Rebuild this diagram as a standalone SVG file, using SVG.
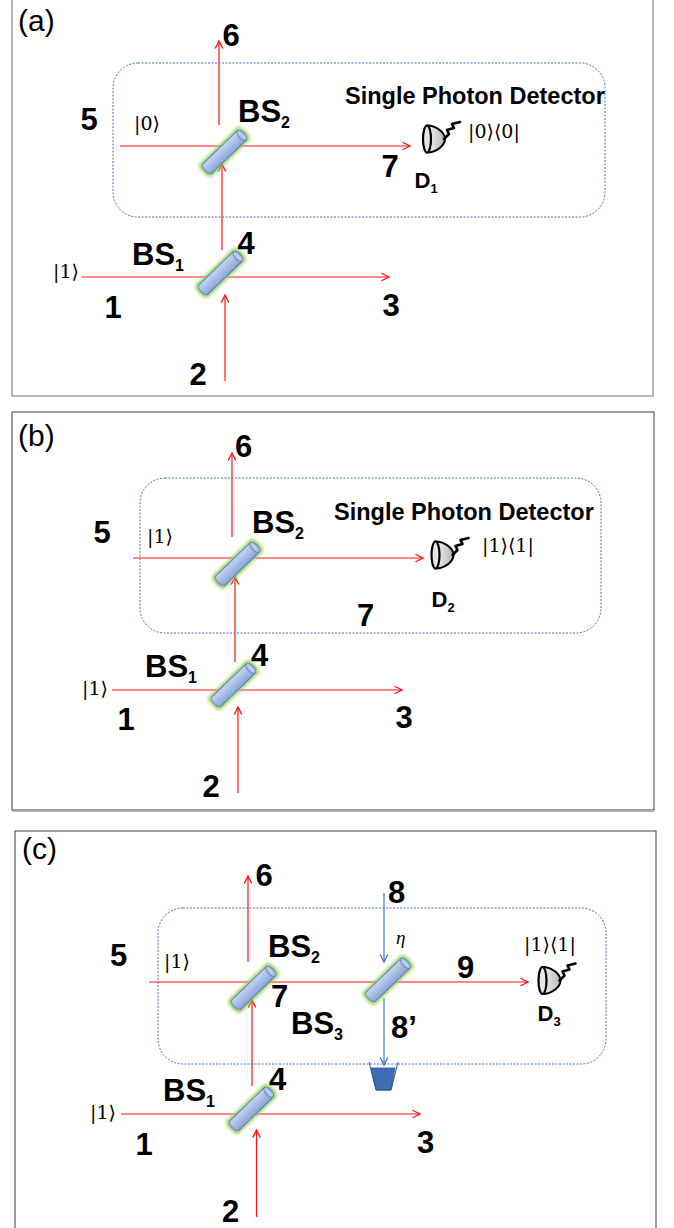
<svg xmlns="http://www.w3.org/2000/svg" xmlns:xlink="http://www.w3.org/1999/xlink" width="674" height="1228" viewBox="0 0 674 1228">
<style>
.num{font-family:"Liberation Sans",Arial,sans-serif;font-weight:bold;font-size:31px;text-anchor:middle;fill:#000}
.bs{font-family:"Liberation Sans",Arial,sans-serif;font-weight:bold;font-size:31px;fill:#000}
.sub{font-size:16px}
.dl{font-family:"Liberation Sans",Arial,sans-serif;font-weight:bold;font-size:22px;fill:#000}
.dsub{font-size:13px}
.spd{font-family:"Liberation Sans",Arial,sans-serif;font-weight:bold;font-size:23.5px;fill:#000}
.ket{font-family:"DejaVu Serif","DejaVu Sans",serif;font-size:19px;fill:#000}
.eta{font-family:"Liberation Serif","DejaVu Serif",serif;font-style:italic;font-size:19px;fill:#000}
.plab{font-family:"Liberation Sans",Arial,sans-serif;font-size:30px;fill:#000}
.frameA{fill:none;stroke:#a0a0a0;stroke-width:1.5}
.frame{fill:none;stroke:#404040;stroke-width:1}
.dash{fill:none;stroke:#4a6fb5;stroke-width:1;stroke-dasharray:2 1.5}
.ray{fill:none;stroke:#ff1414;stroke-width:1.2;marker-end:url(#ar)}
.blue{fill:none;stroke:#4a76c8;stroke-width:1.2;marker-end:url(#ab)}
</style>
<defs>
<marker id="ar" markerUnits="userSpaceOnUse" markerWidth="10" markerHeight="10" refX="0" refY="0" viewBox="-7 -4 8 8" orient="auto" overflow="visible">
<path d="M-6,-3 L0,0 L-6,3" fill="none" stroke="#ff1414" stroke-width="1.1"/>
</marker>
<marker id="ab" markerUnits="userSpaceOnUse" markerWidth="10" markerHeight="10" refX="0" refY="0" viewBox="-7 -4 8 8" orient="auto" overflow="visible">
<path d="M-6,-3 L0,0 L-6,3" fill="none" stroke="#4a76c8" stroke-width="1.1"/>
</marker>
<linearGradient id="bsg" x1="0" y1="0" x2="0" y2="1">
<stop offset="0" stop-color="#c6d4ef"/>
<stop offset="1" stop-color="#8aa5da"/>
</linearGradient>
<linearGradient id="detg" x1="0" y1="0" x2="1" y2="0">
<stop offset="0" stop-color="#f2f2f2"/>
<stop offset="1" stop-color="#b8b8b8"/>
</linearGradient>
<filter id="glow" filterUnits="userSpaceOnUse" x="-40" y="-20" width="80" height="40">
<feMorphology in="SourceAlpha" operator="dilate" radius="1.5" result="d"/>
<feGaussianBlur in="d" stdDeviation="1.8" result="b"/>
<feFlood flood-color="#92d050" flood-opacity="0.9"/>
<feComposite in2="b" operator="in" result="g"/>
<feMerge><feMergeNode in="g"/><feMergeNode in="SourceGraphic"/></feMerge>
</filter>
<g id="bsShape">
<path d="M-24,-6.5 L24,-6.5 A3,6.5 0 0 1 24,6.5 L-24,6.5 A3,6.5 0 0 1 -24,-6.5 Z" fill="url(#bsg)" stroke="#4a6aae" stroke-width="0.9"/>
<ellipse cx="24" cy="0" rx="3" ry="6.5" fill="#b9caec" stroke="#4a6aae" stroke-width="0.9"/>
</g>
<g id="det">
<path d="M0,-13.5 C10,-13.5 18,-6 18,0 C18,6 10,13.5 0,13.5 Z" fill="url(#detg)" stroke="#000" stroke-width="2"/>
<ellipse cx="0" cy="0" rx="4" ry="13.5" fill="#e6e6e6" stroke="#000" stroke-width="2.2"/>
<path d="M17,0 L22,-5 L20,-9 L27,-11 L25,-15 L33,-17" fill="none" stroke="#000" stroke-width="2.6" stroke-linejoin="round" stroke-linecap="round"/>
</g>
</defs>
<rect width="674" height="1228" fill="#fff"/>

<!-- frames -->
<rect class="frameA" x="12" y="-5" width="641" height="401"/>
<rect class="frame" x="12" y="412" width="642" height="398"/>
<line x1="12" y1="811" x2="654" y2="811" stroke="#a0a0a0" stroke-width="1.5"/>
<rect class="frame" x="15" y="831" width="641" height="420"/>

<g id="connectors">
<!-- panel a -->
<path class="ray" d="M120,146 H410"/>
<path class="ray" d="M82,277 H389"/>
<path class="ray" d="M225,381 V295"/>
<path class="ray" d="M222,250 V164"/>
<path class="ray" d="M219,125 V41"/>
<!-- panel b -->
<path class="ray" d="M133,558 H423"/>
<path class="ray" d="M112,690 H402"/>
<path class="ray" d="M238,793 V707"/>
<path class="ray" d="M235,662 V577"/>
<path class="ray" d="M232,537 V453"/>
<!-- panel c -->
<path class="ray" d="M149,982 H528"/>
<path class="ray" d="M121,1114 H420"/>
<path class="ray" d="M256.5,1217 V1130"/>
<path class="ray" d="M252,1086 V1000"/>
<path class="ray" d="M248,962 V876"/>
<path class="blue" d="M384,893 V962"/>
<path class="blue" d="M384,998 V1065"/>
</g>

<g id="panel-a">
<text class="plab" x="18" y="31">(a)</text>
<rect id="a-box" class="dash" x="113" y="63" width="492" height="154" rx="25"/>
<g id="a-bs2"><use xlink:href="#bsShape" transform="translate(224.5,152) rotate(-44)" filter="url(#glow)"/>
<text class="bs" x="238" y="122">BS<tspan class="sub" dy="6">2</tspan></text></g>
<g id="a-bs1"><use xlink:href="#bsShape" transform="translate(220.5,273) rotate(-44)" filter="url(#glow)"/>
<text class="bs" x="132" y="265">BS<tspan class="sub" dy="6">1</tspan></text></g>
<g id="a-d1"><use xlink:href="#det" transform="translate(427,139)"/>
<text class="dl" x="414.5" y="188">D<tspan class="dsub" dy="5">1</tspan></text></g>
<text class="spd" x="345" y="104">Single Photon Detector</text>
<text class="ket" x="134" y="130">|0⟩</text>
<text class="ket" x="468" y="138">|0⟩⟨0|</text>
<text class="ket" x="53" y="278">|1⟩</text>
<text class="num" x="231" y="46">6</text>
<text class="num" x="89" y="130">5</text>
<text class="num" x="390" y="177">7</text>
<text class="num" x="246" y="254">4</text>
<text class="num" x="113" y="318">1</text>
<text class="num" x="391" y="316">3</text>
<text class="num" x="198" y="385">2</text>
</g>

<g id="panel-b">
<text class="plab" x="18" y="446">(b)</text>
<rect id="b-box" class="dash" x="140" y="478" width="461" height="155" rx="25"/>
<g id="b-bs2"><use xlink:href="#bsShape" transform="translate(237.5,564) rotate(-44)" filter="url(#glow)"/>
<text class="bs" x="252" y="533">BS<tspan class="sub" dy="6">2</tspan></text></g>
<g id="b-bs1"><use xlink:href="#bsShape" transform="translate(233.5,685) rotate(-44)" filter="url(#glow)"/>
<text class="bs" x="145" y="677">BS<tspan class="sub" dy="6">1</tspan></text></g>
<g id="b-d2"><use xlink:href="#det" transform="translate(435.5,555)"/>
<text class="dl" x="431.5" y="607">D<tspan class="dsub" dy="5">2</tspan></text></g>
<text class="spd" x="334" y="520">Single Photon Detector</text>
<text class="ket" x="147" y="543">|1⟩</text>
<text class="ket" x="482" y="552">|1⟩⟨1|</text>
<text class="ket" x="82" y="695">|1⟩</text>
<text class="num" x="243.5" y="457">6</text>
<text class="num" x="102" y="543">5</text>
<text class="num" x="365.5" y="626">7</text>
<text class="num" x="259.5" y="666">4</text>
<text class="num" x="126" y="730">1</text>
<text class="num" x="404" y="728">3</text>
<text class="num" x="211" y="797">2</text>
</g>

<g id="panel-c">
<text class="plab" x="22" y="859">(c)</text>
<rect id="c-box" class="dash" x="158" y="908" width="448" height="156" rx="25"/>
<g id="c-bs2"><use xlink:href="#bsShape" transform="translate(253.5,988) rotate(-44)" filter="url(#glow)"/>
<text class="bs" x="268" y="957">BS<tspan class="sub" dy="6">2</tspan></text></g>
<g id="c-bs3"><use xlink:href="#bsShape" transform="translate(388,980) rotate(-44)" filter="url(#glow)"/>
<text class="bs" x="291" y="1034">BS<tspan class="sub" dy="6">3</tspan></text></g>
<g id="c-bs1"><use xlink:href="#bsShape" transform="translate(251.5,1109) rotate(-44)" filter="url(#glow)"/>
<text class="bs" x="163" y="1101">BS<tspan class="sub" dy="6">1</tspan></text></g>
<g id="c-d3"><use xlink:href="#det" transform="translate(542.5,980.5)"/>
<text class="dl" x="537.5" y="1021">D<tspan class="dsub" dy="5">3</tspan></text></g>
<g id="c-bucket">
<path d="M371,1068 L395,1068 L391,1090 L376,1090 Z" fill="#3f6cb4" stroke="#2f5597" stroke-width="0.8"/>
<path d="M369,1062 L376,1090 L391,1090 L398,1062" fill="none" stroke="#2f5597" stroke-width="1"/>
</g>
<text class="ket" x="164" y="968">|1⟩</text>
<text class="ket" x="524" y="951">|1⟩⟨1|</text>
<text class="ket" x="90" y="1119">|1⟩</text>
<text class="eta" x="396" y="944">η</text>
<text class="num" x="264" y="886">6</text>
<text class="num" x="118.5" y="966">5</text>
<text class="num" x="279.5" y="1007">7</text>
<text class="num" x="396.5" y="903">8</text>
<text class="num" x="465.5" y="978">9</text>
<text class="num" x="404" y="1038">8’</text>
<text class="num" x="277.5" y="1090">4</text>
<text class="num" x="144" y="1155">1</text>
<text class="num" x="425.5" y="1153">3</text>
<text class="num" x="230.5" y="1222">2</text>
</g>
</svg>
